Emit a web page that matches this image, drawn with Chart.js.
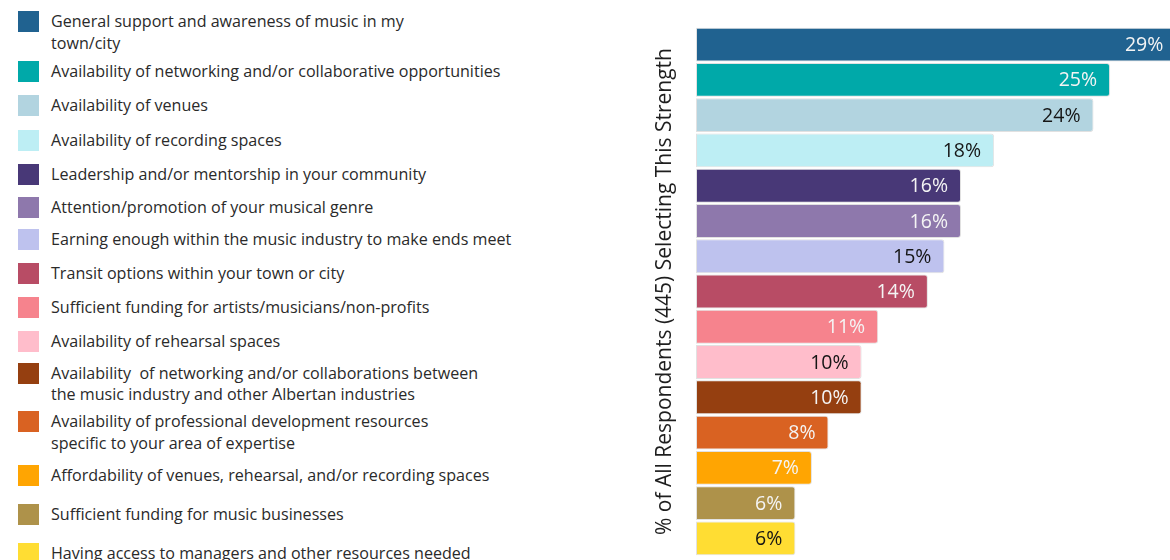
<!DOCTYPE html>
<html>
<head>
<meta charset="utf-8">
<script src="https://cdn.jsdelivr.net/npm/chart.js@4/dist/chart.umd.min.js"></script>
<style>
  html, body { margin: 0; padding: 0; background: #ffffff; }
  body { width: 1170px; height: 560px; overflow: hidden; position: relative; font-family: "Open Sans", sans-serif; }
  #legend { position: absolute; left: 0; top: 0; width: 620px; height: 560px; }
  .item { position: absolute; left: 0; }
  .swatch { position: absolute; left: 18px; top: 0; width: 21px; height: 21px; }
  .text { position: absolute; left: 51px; top: 0; font-size: 16.1px; line-height: 21.5px; color: #2a2a2a; white-space: pre; }
  #chartBox { position: absolute; left: 640px; top: 0; width: 586px; height: 560px; }
</style>
</head>
<body>
<div id="legend"></div>
<div id="chartBox"><canvas id="chart"></canvas></div>
<script>
// Strengths of the local music scene, share of respondents choosing each one
const categories = [
  ["General support and awareness of music in my", "town/city"],
  ["Availability of networking and/or collaborative opportunities"],
  ["Availability of venues"],
  ["Availability of recording spaces"],
  ["Leadership and/or mentorship in your community"],
  ["Attention/promotion of your musical genre"],
  ["Earning enough within the music industry to make ends meet"],
  ["Transit options within your town or city"],
  ["Sufficient funding for artists/musicians/non-profits"],
  ["Availability of rehearsal spaces"],
  ["Availability  of networking and/or collaborations between", "the music industry and other Albertan industries"],
  ["Availability of professional development resources", "specific to your area of expertise"],
  ["Affordability of venues, rehearsal, and/or recording spaces"],
  ["Sufficient funding for music businesses"],
  ["Having access to managers and other resources needed"]
];

const percentages = [29, 25, 24, 18, 16, 16, 15, 14, 11, 10, 10, 8, 7, 6, 6];

const yAxisTitle = "% of All Respondents (445) Selecting This Strength";

// Styling
const barColors = [
  "#206290", "#00A9A9", "#B2D4E0", "#BDEEF4", "#483877",
  "#8E78AC", "#BEC2EE", "#B84C65", "#F6838D", "#FFBDCB",
  "#953F10", "#D96222", "#FFA502", "#AE924A", "#FFDD33"
];
const labelColors = [
  "#f4f4f4", "#f4f4f4", "#151515", "#151515", "#f4f4f4",
  "#f4f4f4", "#151515", "#f4f4f4", "#f4f4f4", "#151515",
  "#f4f4f4", "#f4f4f4", "#f4f4f4", "#f4f4f4", "#151515"
];
const legendTops = [11, 61, 95, 129.5, 163.5, 196.5, 229, 263, 296.5, 330.5, 362.5, 411, 464.5, 504, 542.5];

// Legend on the left, built from the same category and colour lists
const legendEl = document.getElementById("legend");
categories.forEach((lines, i) => {
  const item = document.createElement("div");
  item.className = "item";
  item.style.top = legendTops[i] + "px";
  const sw = document.createElement("div");
  sw.className = "swatch";
  sw.style.background = barColors[i];
  const tx = document.createElement("div");
  tx.className = "text";
  tx.textContent = lines.join("\n");
  item.appendChild(sw);
  item.appendChild(tx);
  legendEl.appendChild(item);
});

// Value labels drawn inside the right end of each bar
const valueLabels = {
  id: "valueLabels",
  afterDatasetsDraw(chart) {
    const ctx = chart.ctx;
    const meta = chart.getDatasetMeta(0);
    const data = chart.data.datasets[0].data;
    ctx.save();
    ctx.font = "19.5px 'Open Sans', sans-serif";
    ctx.textAlign = "right";
    ctx.textBaseline = "middle";
    meta.data.forEach((bar, i) => {
      ctx.fillStyle = labelColors[i];
      ctx.fillText(Math.round(data[i]) + "%", bar.x - 13, bar.y + 1);
    });
    ctx.restore();
  }
};

new Chart(document.getElementById("chart"), {
  type: "bar",
  data: {
    labels: categories.map(l => l.join(" ")),
    datasets: [{
      data: percentages,
      backgroundColor: barColors,
      borderColor: "rgba(200,200,200,0.55)",
      borderWidth: 1,
      borderSkipped: false,
      borderRadius: { topLeft: 0, bottomLeft: 0, topRight: 3, bottomRight: 3 },
      barPercentage: 0.96,
      categoryPercentage: 1.0
    }]
  },
  options: {
    indexAxis: "y",
    responsive: true,
    maintainAspectRatio: false,
    animation: false,
    layout: { padding: { top: 27, bottom: 4, left: 0, right: 0 } },
    plugins: {
      legend: { display: false },
      tooltip: { enabled: false }
    },
    scales: {
      x: { type: "linear", display: false, min: 0, max: 32 },
      y: {
        type: "category",
        grid: { display: false },
        border: { display: false },
        ticks: { display: false },
        title: {
          display: true,
          text: yAxisTitle,
          color: "#1e1e1e",
          font: { family: "'Open Sans', sans-serif", size: 21 },
          padding: { top: 12, bottom: 0 }
        },
        afterFit(axis) { axis.width = 56; }
      }
    }
  },
  plugins: [valueLabels]
});
</script>
</body>
</html>
